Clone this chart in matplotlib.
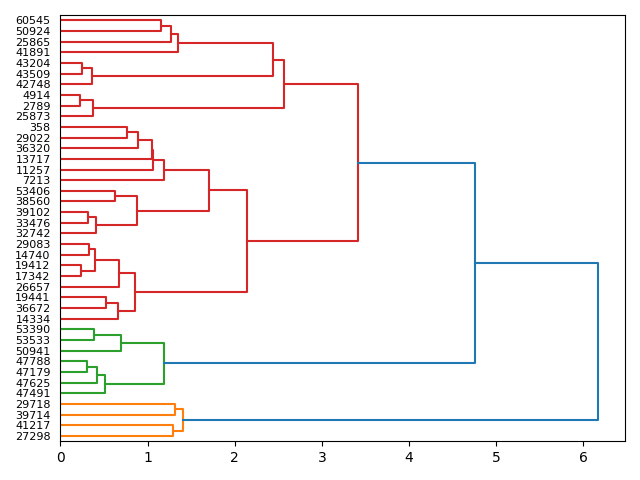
import matplotlib
matplotlib.use("Agg")
import matplotlib.pyplot as plt

# Leaf labels, listed top to bottom as shown in the chart
leaf_labels = [
    "60545", "50924", "25865", "41891", "43204", "43509", "42748", "4914",
    "2789", "25873", "358", "29022", "36320", "13717", "11257", "7213",
    "53406", "38560", "39102", "33476", "32742", "29083", "14740", "19412",
    "17342", "26657", "19441", "36672", "14334", "53390", "53533", "50941",
    "47788", "47179", "47625", "47491", "29718", "39714", "41217", "27298",
]

# Linkage: ids < 40 are leaves (index above), id 40+k is the k-th merge
merge_left = [0, 40, 41, 4, 43, 42, 7, 46, 45, 10, 49, 50, 51, 52, 16, 18, 55,
              54, 53, 21, 23, 59, 61, 26, 63, 62, 58, 48, 29, 68, 32, 70, 71,
              69, 36, 38, 74, 67, 77]
merge_right = [1, 2, 3, 5, 6, 44, 8, 9, 47, 11, 12, 13, 14, 15, 17, 19, 20,
               56, 57, 22, 24, 60, 25, 27, 28, 64, 65, 66, 30, 31, 33, 34, 35,
               72, 37, 39, 75, 73, 76]
merge_height = [1.16, 1.27, 1.355, 0.25, 0.367, 2.445, 0.23, 0.379, 2.568,
                0.769, 0.895, 1.048, 1.068, 1.19, 0.624, 0.318, 0.413, 0.88,
                1.71, 0.333, 0.241, 0.40, 0.677, 0.528, 0.666, 0.861, 2.143,
                3.42, 0.39, 0.70, 0.31, 0.425, 0.509, 1.194, 1.32, 1.294,
                1.412, 4.753, 6.17]

n = len(leaf_labels)

# positions like scipy: leaves at 5, 15, ... from the bottom
node_y = {i: 5 + 10 * (n - 1 - i) for i in range(n)}
node_h = {i: 0.0 for i in range(n)}
children = {}
for k, (a, b, h) in enumerate(zip(merge_left, merge_right, merge_height)):
    node_y[n + k] = (node_y[a] + node_y[b]) / 2
    node_h[n + k] = h
    children[n + k] = (a, b)

# colour clusters below 0.7 * max height, like scipy's default threshold
threshold = 0.7 * max(merge_height)
roots = []


def collect(node):
    if node < n:
        return
    if node_h[node] < threshold:
        roots.append(node)
        return
    for c in children[node]:
        collect(c)


collect(n + len(merge_height) - 1)
roots.sort(key=lambda r: node_y[r])
palette = ["C1", "C2", "C3", "C4", "C5"]
node_color = {}


def paint(node, color):
    if node < n:
        return
    node_color[node] = color
    for c in children[node]:
        paint(c, color)


for r, c in zip(roots, palette):
    paint(r, c)

fig, ax = plt.subplots(figsize=(6.4, 4.8), dpi=100)
for node, (a, b) in children.items():
    h = node_h[node]
    xs = [node_h[a], h, h, node_h[b]]
    ys = [node_y[a], node_y[a], node_y[b], node_y[b]]
    ax.plot(xs, ys, color=node_color.get(node, "C0"), linewidth=1.5)

ax.set_ylim(0, 10 * n)
ax.set_xlim(0, 1.05 * max(merge_height))
ax.set_yticks([node_y[i] for i in range(n)])
ax.set_yticklabels(leaf_labels, fontsize=8)
for line in ax.get_yticklines():
    line.set_visible(False)

plt.tight_layout()
plt.savefig("out.png", dpi=100)
plt.close()
